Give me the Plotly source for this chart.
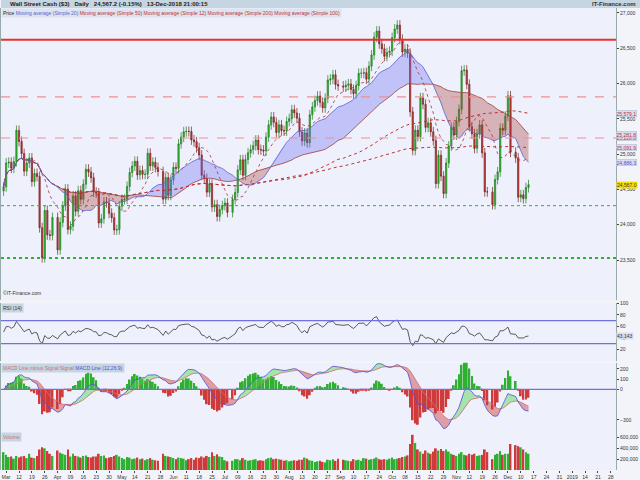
import pandas as pd
import numpy as np
import plotly.graph_objects as go

# daily closes, one row per week (Mar 2 - Dec 13 2018)
closes = [
    24538,
    24874, 24885, 24801, 24895, 25336,
    25179, 25008, 24759, 24873, 24946,
    24611, 24727, 24683, 23958, 23533,
    24202, 23857, 23849, 24103,
    23644, 24033, 24264, 24505, 23933,
    23979, 24408, 24190, 24483, 24360,
    24574, 24787, 24748, 24665, 24463,
    24449, 24025, 24084, 24323, 24311,
    24163, 24100, 23925, 23930, 24263,
    24357, 24361, 24543, 24740, 24831,
    24899, 24706, 24768, 24714, 24715,
    25013, 24834, 24886, 24812, 24753,
    24362, 24668, 24416, 24635,
    24813, 24799, 25146, 25241, 25317,
    25322, 25320, 25201, 25175, 25090,
    24987, 24700, 24657, 24461, 24581,
    24252, 24284, 24117, 24216, 24271,
    24307, 24175, 24357, 24456,
    24776, 24920, 24700, 24924, 25019,
    25064, 25120, 25199, 25065, 25058,
    25044, 25241, 25415, 25527, 25451,
    25307, 25415, 25333, 25327, 25463,
    25502, 25629, 25584, 25509, 25313,
    25187, 25300, 25162, 25558, 25669,
    25758, 25822, 25733, 25656, 25790,
    26049, 26064, 26124, 25986, 25965,
    25952, 25974, 25995, 25916,
    25857, 25971, 26145, 26145, 26154,
    26062, 26246, 26405, 26657, 26743,
    26562, 26492, 26385, 26439, 26458,
    26651, 26773, 26828, 26627, 26447,
    26486, 26430, 25599, 25053, 25339,
    25250, 25798, 25706, 25379, 25444,
    25317, 25191, 24583, 24985, 24688,
    24443, 24874, 25116, 25380, 25270,
    25462, 25635, 26181, 26191, 25989,
    25388, 25287, 25081, 25289, 25413,
    25018, 24466, 24465, 24286,
    24640, 24749, 25366, 25339, 25538,
    25826, 25027, 24947, 24389,
    24423, 24370, 24527, 24567,
]

# volume in thousands
volumes = [
    330,
    280, 240, 250, 210, 260,
    230, 250, 260, 220, 300,
    230, 220, 260, 380, 420,
    400, 350, 300, 260,
    360, 320, 300, 280, 380,
    250, 300, 260, 250, 230,
    260, 270, 240, 230, 250,
    250, 300, 260, 270, 220,
    230, 240, 260, 280, 250,
    220, 200, 240, 230, 200,
    210, 230, 200, 210, 180,
    200, 220, 190, 180, 170,
    300, 260, 250, 240,
    220, 200, 230, 220, 210,
    180, 200, 220, 190, 230,
    220, 250, 230, 260, 240,
    330, 260, 290, 250, 240,
    180, 160, 170, 200,
    200, 180, 220, 190, 170,
    180, 190, 200, 170, 180,
    170, 200, 220, 230, 200,
    210, 200, 190, 170, 180,
    160, 170, 180, 170, 190,
    190, 230, 210, 180, 170,
    150, 160, 170, 150, 140,
    190, 180, 200, 170, 210,
    190, 180, 170, 160,
    200, 180, 190, 170, 220,
    210, 190, 200, 210, 230,
    200, 190, 200, 190, 210,
    230, 200, 210, 220, 240,
    250, 270, 480, 650, 500,
    380, 340, 300, 360, 320,
    300, 340, 400, 360, 390,
    350, 380, 340, 300, 280,
    260, 300, 330, 280, 270,
    300, 280, 300, 260, 270,
    280, 380, 330, 200,
    280, 300, 350, 280, 300,
    300, 480, 460, 440,
    420, 380, 330, 300,
]

holidays = ["2018-03-30", "2018-05-28", "2018-07-04", "2018-09-03", "2018-11-22", "2018-12-05"]
# horizontal support / resistance levels
levels_solid = [26620]
levels_dashed = [25812.4, 25228.8]
levels_dotted = [24270, 23530]

days = pd.bdate_range("2018-03-02", "2018-12-13")
days = days[~days.isin(pd.to_datetime(holidays))][:len(closes)]
c = pd.Series(closes, index=days, dtype=float)
o = c.shift(1).fillna(c.iloc[0] - 60)
hi = np.maximum(o, c) + 70
lo = np.minimum(o, c) - 70
vol = pd.Series(volumes, index=days) * 1000

sma = {n: c.rolling(n, min_periods=1).mean() for n in (12, 20, 50, 100, 200)}

# RSI 14 (Wilder), seeded with neutral averages
d = c.diff().fillna(0)
up = pd.concat([pd.Series([60.0]), d.clip(lower=0).reset_index(drop=True)]).ewm(alpha=1 / 14, adjust=False).mean()
dn = pd.concat([pd.Series([60.0]), (-d.clip(upper=0)).reset_index(drop=True)]).ewm(alpha=1 / 14, adjust=False).mean()
rsi = (100 - 100 / (1 + up / dn)).iloc[1:].values

# MACD 12 26 9
macd = c.ewm(span=12, adjust=False).mean() - c.ewm(span=26, adjust=False).mean()
sig = macd.ewm(span=9, adjust=False).mean()
hist = macd - sig

fig = go.Figure()
BLUE_F = "rgba(110,110,240,0.35)"
RED_F = "rgba(170,60,60,0.35)"


def band(a, b, x, ya, col_pos, col_neg):
    # fill between a and b, colour depending on sign of a-b
    fig.add_trace(go.Scatter(x=x, y=b, mode="lines", line=dict(width=0), yaxis=ya, hoverinfo="skip"))
    fig.add_trace(go.Scatter(x=x, y=np.where(a > b, a, b), mode="lines", line=dict(width=0),
                             fill="tonexty", fillcolor=col_pos, yaxis=ya, hoverinfo="skip"))
    fig.add_trace(go.Scatter(x=x, y=b, mode="lines", line=dict(width=0), yaxis=ya, hoverinfo="skip"))
    fig.add_trace(go.Scatter(x=x, y=np.where(a < b, a, b), mode="lines", line=dict(width=0),
                             fill="tonexty", fillcolor=col_neg, yaxis=ya, hoverinfo="skip"))


band(sma[20], sma[50], days, "y", BLUE_F, RED_F)
fig.add_trace(go.Scatter(x=days, y=sma[200], mode="lines", line=dict(color="#c03030", width=1, dash="dot")))
fig.add_trace(go.Scatter(x=days, y=sma[100], mode="lines", line=dict(color="#c03030", width=1, dash="dot")))
fig.add_trace(go.Scatter(x=days, y=sma[12], mode="lines", line=dict(color="#b03030", width=0.8, dash="dot")))
fig.add_trace(go.Scatter(x=days, y=sma[50], mode="lines", line=dict(color="#a04040", width=0.8)))
fig.add_trace(go.Scatter(x=days, y=sma[20], mode="lines", line=dict(color="#6060d0", width=0.8)))
fig.add_trace(go.Candlestick(x=days, open=o, high=hi, low=lo, close=c, whiskerwidth=0,
                             increasing=dict(line=dict(color="#1f7a1f", width=0.7), fillcolor="#2fbf2f"),
                             decreasing=dict(line=dict(color="#7a1f1f", width=0.7), fillcolor="#d03a3a")))

# RSI
fig.add_trace(go.Scatter(x=days, y=rsi, mode="lines", line=dict(color="#333", width=0.8), yaxis="y2"))

# MACD
fig.add_trace(go.Bar(x=days, y=hist * 1.8, yaxis="y3",
                     marker=dict(color=np.where(hist >= 0, "#30b030", "#d03a3a"), line_width=0)))
band(macd, sig, days, "y3", "rgba(80,210,80,0.45)", "rgba(200,60,60,0.45)")
fig.add_trace(go.Scatter(x=days, y=sig, mode="lines", line=dict(color="#d07070", width=0.8), yaxis="y3"))
fig.add_trace(go.Scatter(x=days, y=macd, mode="lines", line=dict(color="#5050d0", width=0.8), yaxis="y3"))

# volume
fig.add_trace(go.Bar(x=days, y=vol, yaxis="y4",
                     marker=dict(color=np.where(c >= o, "#30b030", "#d03a3a"), line_width=0)))

shapes = []
for v in levels_solid:
    shapes.append(dict(type="line", xref="x domain", x0=0, x1=1, y0=v, y1=v, yref="y",
                       line=dict(color="#e83030", width=2)))
for v in levels_dashed:
    shapes.append(dict(type="line", xref="x domain", x0=0, x1=1, y0=v, y1=v, yref="y",
                       line=dict(color="#f09090", width=1.2, dash="dash")))
for i, v in enumerate(levels_dotted):
    shapes.append(dict(type="line", xref="x domain", x0=0, x1=1, y0=v, y1=v, yref="y",
                       line=dict(color="#30b030", width=1 if i == 0 else 2, dash="dot")))
for v in (70, 30):
    shapes.append(dict(type="line", xref="x domain", x0=0, x1=1, y0=v, y1=v, yref="y2",
                       line=dict(color="#7070e0", width=1.2)))
shapes.append(dict(type="line", xref="x domain", x0=0, x1=1, y0=0, y1=0, yref="y3",
                   line=dict(color="#7070e0", width=1.2)))
# header bar
shapes.append(dict(type="rect", xref="paper", yref="paper", x0=0, x1=1.04, y0=1.0, y1=1.02,
                   fillcolor="#c5d5e2", line_width=0, layer="below"))

ann = [
    dict(text="<b>Wall Street Cash ($3)   Daily   24,567.2 (-0.15%)   13-Dec-2018 21:00:15</b>",
         x=0.012, y=1.019, xref="paper", yref="paper", xanchor="left", yanchor="top", showarrow=False,
         font=dict(size=6, color="#222")),
    dict(text="<b>IT-Finance.com</b>", x=1.035, y=1.019, xref="paper", yref="paper", xanchor="right",
         yanchor="top", showarrow=False, font=dict(size=6, color="#333")),
    dict(text="Price <span style='color:#6060d0'>Moving average (Simple 20)</span> "
              "<span style='color:#c03030'>Moving average (Simple 50) Moving average (Simple 12) "
              "Moving average (Simple 200) Moving average (Simple 100)</span>",
         x=0, y=1.0, xref="paper", yref="paper", xanchor="left", yanchor="top", showarrow=False,
         bgcolor="#dde4f0", font=dict(size=5, color="#222")),
    dict(text="©IT-Finance.com", x=0, y=0.372, xref="paper", yref="paper", xanchor="left", yanchor="bottom",
         showarrow=False, font=dict(size=5, color="#333")),
    dict(text="RSI (14)", x=0, y=0.361, xref="paper", yref="paper", xanchor="left", yanchor="top",
         showarrow=False, bgcolor="#c5d5e2", font=dict(size=5, color="#333")),
    dict(text="<span style='color:#d07070'>MACD Line minus Signal</span> <span style='color:#c07070'>Signal</span> "
              "<span style='color:#5050d0'>MACD Line (12,26,9)</span>", x=0, y=0.232, xref="paper", yref="paper",
         xanchor="left", yanchor="top", showarrow=False, bgcolor="#c5d5e2", font=dict(size=5)),
    dict(text="<span style='color:#d07070'>Volume</span>", x=0, y=0.082, xref="paper", yref="paper",
         xanchor="left", yanchor="top", showarrow=False, bgcolor="#c5d5e2", font=dict(size=5)),
]
# right-side value tags
tags = [(sma[200].iloc[-1], "#c03030"), (levels_dashed[1], "#c03030"), (sma[100].iloc[-1], "#c03030"),
        (sma[50].iloc[-1], "#c03030"), (sma[20].iloc[-1], "#5050d0")]
for v, col in tags:
    ann.append(dict(text=f"{v:,.1f}", x=1.0, y=v, xref="paper", yref="y", xanchor="left", showarrow=False,
                    bgcolor="#d8dff0", bordercolor="#b0b8d0", borderwidth=0.5, borderpad=0,
                    font=dict(size=5, color=col)))
ann.append(dict(text=f"{closes[-1]:,.1f}", x=1.0, y=closes[-1], xref="paper", yref="y", xanchor="left",
                showarrow=False, bgcolor="#f5e000", borderpad=0, font=dict(size=5, color="#333")))
ann.append(dict(text=f"{rsi[-1]:.3f}", x=1.0, y=rsi[-1], xref="paper", yref="y2", xanchor="left",
                showarrow=False, bgcolor="#d8dff0", borderpad=0, font=dict(size=5, color="#333")))

# weekly tick labels, month names on the first week of a month
mondays = pd.date_range("2018-03-05", "2019-01-28", freq="W-MON")
tickvals, ticktext = [], []
for m in mondays:
    tickvals.append(m.strftime("%Y-%m-%d"))
    if m.month == 1 and m.day <= 7:
        ticktext.append("2019")
    else:
        ticktext.append(m.strftime("%b") if m.day <= 7 else m.strftime("%d"))

ax = dict(showgrid=False, zeroline=False, showline=True, linecolor="#9aa", side="right",
          tickfont=dict(size=5, color="#333"), ticks="outside", ticklen=2, mirror=True)
fig.update_layout(
    width=640, height=480, showlegend=False, bargap=0.3,
    margin=dict(l=0, r=24, t=8, b=8),
    paper_bgcolor="#f2f4fa", plot_bgcolor="#eef1fc",
    font=dict(family="Liberation Sans"),
    xaxis=dict(range=["2018-03-01", "2019-01-30"], showgrid=False, rangeslider_visible=False,
               rangebreaks=[dict(bounds=["sat", "mon"])], tickmode="array", tickvals=tickvals,
               ticktext=ticktext, tickangle=0, showticklabels=True,
               tickfont=dict(size=5, color="#333"), ticks="outside", ticklen=2, anchor="y4"),
    yaxis=dict(ax, domain=[0.368, 1.0], range=[22934, 27070], tickvals=[23500, 24000, 24500, 25000, 25500,
                                                                        26000, 26500, 27000],
               tickformat=",d"),
    yaxis2=dict(ax, domain=[0.236, 0.361], range=[0, 100], anchor="x", tickvals=[20, 40, 60, 80, 100]),
    yaxis3=dict(ax, domain=[0.082, 0.232], range=[-420, 260], anchor="x", tickvals=[-300, 0, 100, 200]),
    yaxis4=dict(ax, domain=[0, 0.082], range=[0, 700000], anchor="x", tickvals=[200000, 400000, 600000],
                tickformat=",d"),
    shapes=shapes, annotations=ann,
)
fig.write_html("out.html", config={"displayModeBar": False},
               post_script="document.body.style.margin='0';document.body.style.overflow='hidden';")
